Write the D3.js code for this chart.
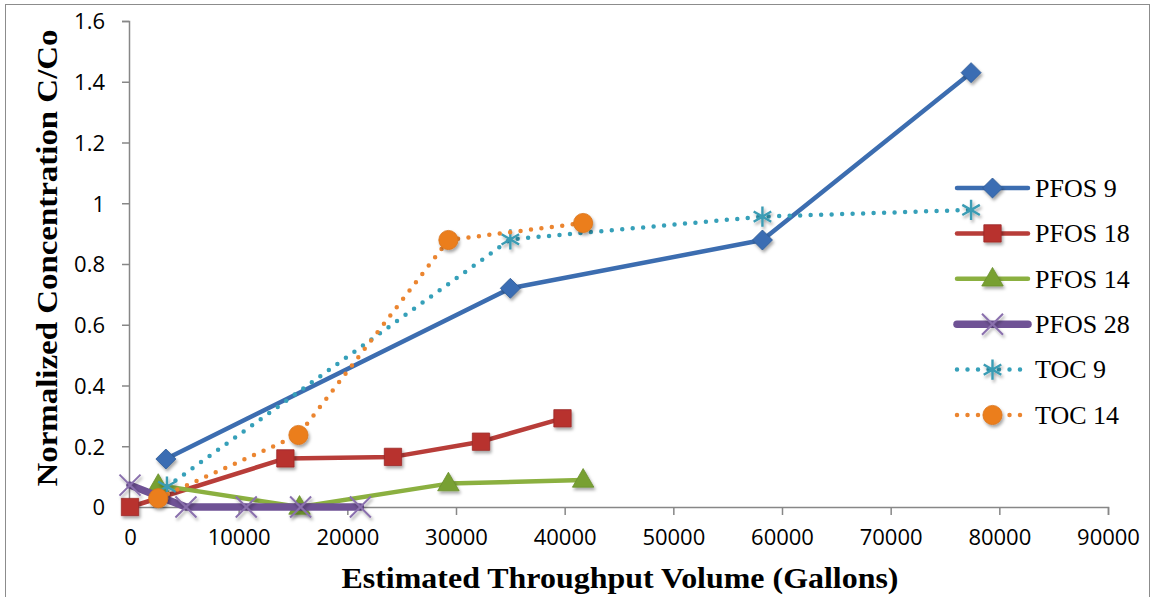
<!DOCTYPE html>
<html>
<head>
<meta charset="utf-8">
<script src="https://cdn.jsdelivr.net/npm/d3@7"></script>
<style>
  body { margin: 0; background: #fff; }
  svg { display: block; }
</style>
</head>
<body>
<script>
// ------------------------------------------ data ------------------------------------------//
var seriesNames = ["PFOS 9", "PFOS 18", "PFOS 14", "PFOS 28", "TOC 9", "TOC 14"];

var pfos9X = [3300, 35000, 58200, 77400];
var pfos9Y = [0.158, 0.72, 0.879, 1.43];

var pfos18X = [0, 14300, 24200, 32300, 39800];
var pfos18Y = [0, 0.16, 0.165, 0.215, 0.292];

var pfos14X = [2600, 15600, 29300, 41700];
var pfos14Y = [0.072, 0, 0.077, 0.089];

var pfos28X = [0, 5150, 10700, 15700, 21200];
var pfos28Y = [0.072, 0, 0, 0, 0];

var toc9X = [3400, 35000, 58200, 77400];
var toc9Y = [0.067, 0.881, 0.956, 0.978];

var toc14X = [2600, 15500, 29300, 41700];
var toc14Y = [0.029, 0.237, 0.879, 0.935];

var xTicks = [0, 10000, 20000, 30000, 40000, 50000, 60000, 70000, 80000, 90000];
var yTicks = [0, 0.2, 0.4, 0.6, 0.8, 1, 1.2, 1.4, 1.6];

function zip(xs, ys) {
  return xs.map(function (x, i) { return { x: x, y: ys[i] }; });
}

var series = [
  { name: seriesNames[0], pts: zip(pfos9X, pfos9Y), color: "#3c6db0", width: 4.5, dotted: false, marker: "diamond", mfill: "#3a6db3" },
  { name: seriesNames[1], pts: zip(pfos18X, pfos18Y), color: "#b83d39", width: 4.5, dotted: false, marker: "square", mfill: "#b8312f" },
  { name: seriesNames[2], pts: zip(pfos14X, pfos14Y), color: "#8bb040", width: 4.5, dotted: false, marker: "triangle", mfill: "#78a033" },
  { name: seriesNames[3], pts: zip(pfos28X, pfos28Y), color: "#6f5295", width: 7.5, dotted: false, marker: "x", mfill: "#8a70ad" },
  { name: seriesNames[4], pts: zip(toc9X, toc9Y), color: "#36a0b9", width: 4.5, dotted: true, marker: "asterisk", mfill: "#3a9cb4" },
  { name: seriesNames[5], pts: zip(toc14X, toc14Y), color: "#eb8530", width: 4.5, dotted: true, marker: "circle", mfill: "#eb7e1e" }
];

// ------------------------------------------ setup ------------------------------------------//
var width = 1153,
  height = 597;

var svg = d3.select("body").append("svg")
  .attr("width", width)
  .attr("height", height);

var defs = svg.append("defs");
var shadow = defs.append("filter").attr("id", "shadow")
  .attr("x", "-50%").attr("y", "-50%").attr("width", "200%").attr("height", "200%");
shadow.append("feDropShadow")
  .attr("dx", 1.5).attr("dy", 2.5).attr("stdDeviation", 1.8)
  .attr("flood-color", "#000").attr("flood-opacity", 0.35);

// outer frame
svg.append("rect")
  .attr("x", 5.5).attr("y", 4.5)
  .attr("width", 1144).attr("height", 600)
  .attr("fill", "none").attr("stroke", "#8c8c8c").attr("stroke-width", 1);

var x = d3.scaleLinear().domain([0, 90000]).range([130, 1108]);
var y = d3.scaleLinear().domain([0, 1.6]).range([507, 21]);

// ------------------------------------------ axes ------------------------------------------//
var xAxis = svg.append("g")
  .attr("transform", "translate(0,507)")
  .call(d3.axisBottom(x).tickValues(xTicks).tickSize(8).tickPadding(14).tickFormat(d3.format("d")));

var yAxis = svg.append("g")
  .attr("transform", "translate(129,0)")
  .call(d3.axisLeft(y).tickValues(yTicks).tickSize(7).tickPadding(17).tickFormat(function (d) { return String(d); }));

[xAxis, yAxis].forEach(function (g) {
  g.select(".domain").attr("stroke", "#878787").attr("stroke-width", 1.5);
  g.selectAll(".tick line").attr("stroke", "#878787").attr("stroke-width", 1.5);
  g.selectAll(".tick text")
    .attr("fill", "#000")
    .style("font-family", "'Open Sans', sans-serif")
    .style("font-size", "22px");
});
yAxis.selectAll(".tick text").attr("dy", "0.36em");

// axis titles
svg.append("text")
  .attr("x", 620).attr("y", 588)
  .attr("text-anchor", "middle")
  .attr("textLength", 557).attr("lengthAdjust", "spacingAndGlyphs")
  .style("font-family", "'Liberation Serif', 'Times New Roman', serif")
  .style("font-weight", "bold")
  .style("font-size", "30px")
  .text("Estimated Throughput Volume (Gallons)");

svg.append("text")
  .attr("transform", "translate(57,258) rotate(-90)")
  .attr("text-anchor", "middle")
  .attr("textLength", 457).attr("lengthAdjust", "spacingAndGlyphs")
  .style("font-family", "'Liberation Serif', 'Times New Roman', serif")
  .style("font-weight", "bold")
  .style("font-size", "30px")
  .text("Normalized Concentration C/Co");

// ------------------------------------------ markers ------------------------------------------//
function drawMarker(g, s) {
  if (s.marker === "diamond") {
    g.append("path").attr("d", d3.symbol(d3.symbolSquare, 200)())
      .attr("transform", "rotate(45)")
      .attr("fill", s.mfill).attr("stroke", "#2f5c97").attr("stroke-width", 0.8);
  } else if (s.marker === "square") {
    g.append("path").attr("d", d3.symbol(d3.symbolSquare, 300)())
      .attr("fill", s.mfill).attr("stroke", "#9c2b28").attr("stroke-width", 0.8);
  } else if (s.marker === "triangle") {
    g.append("path").attr("d", d3.symbol(d3.symbolTriangle, 200)())
      .attr("transform", "translate(0,1)")
      .attr("fill", s.mfill).attr("stroke", "#6a8f2c").attr("stroke-width", 0.8);
  } else if (s.marker === "x") {
    g.append("path").attr("d", d3.symbol(d3.symbolTimes, 290)())
      .attr("fill", "none").attr("stroke", s.mfill).attr("stroke-width", 2);
  } else if (s.marker === "asterisk") {
    g.append("path").attr("d", d3.symbol(d3.symbolAsterisk, 290)())
      .attr("fill", "none").attr("stroke", s.mfill).attr("stroke-width", 2.4);
  } else if (s.marker === "circle") {
    g.append("path").attr("d", d3.symbol(d3.symbolCircle, 290)())
      .attr("fill", s.mfill).attr("stroke", "#d9731a").attr("stroke-width", 0.8);
  }
}

// ------------------------------------------ series ------------------------------------------//
var line = d3.line()
  .x(function (d) { return x(d.x); })
  .y(function (d) { return y(d.y); });

function styleLine(sel, s) {
  sel.attr("fill", "none")
    .attr("stroke", s.color)
    .attr("stroke-width", s.width)
    .attr("stroke-linecap", "round")
    .attr("stroke-linejoin", "round");
  if (s.dotted) sel.attr("stroke-dasharray", "0,10.5");
}

var plot = svg.append("g");

series.forEach(function (s) {
  var g = plot.append("g");
  styleLine(g.append("path").datum(s.pts).attr("d", line), s);

  g.selectAll("g.m")
    .data(s.pts)
    .enter()
    .append("g")
    .attr("class", "m")
    .attr("filter", "url(#shadow)")
    .attr("transform", function (d) { return "translate(" + x(d.x) + "," + y(d.y) + ")"; })
    .each(function () { drawMarker(d3.select(this), s); });
});

// ------------------------------------------ legend ------------------------------------------//
var legend = svg.append("g").attr("transform", "translate(957,188)");

var item = legend.selectAll("g.item")
  .data(series)
  .enter()
  .append("g")
  .attr("class", "item")
  .attr("transform", function (d, i) { return "translate(0," + i * 45.4 + ")"; });

item.each(function (s) {
  var g = d3.select(this);
  styleLine(g.append("line").attr("x1", 0).attr("x2", 71).attr("y1", 0).attr("y2", 0), s);
  var m = g.append("g").attr("transform", "translate(35.5,0)").attr("filter", "url(#shadow)");
  drawMarker(m, s);
});

item.append("text")
  .attr("x", 78)
  .attr("y", 0)
  .attr("dy", "0.34em")
  .style("font-family", "'Liberation Serif', 'Times New Roman', serif")
  .style("font-size", "26px")
  .attr("fill", "#000")
  .text(function (d) { return d.name; });
</script>
</body>
</html>
